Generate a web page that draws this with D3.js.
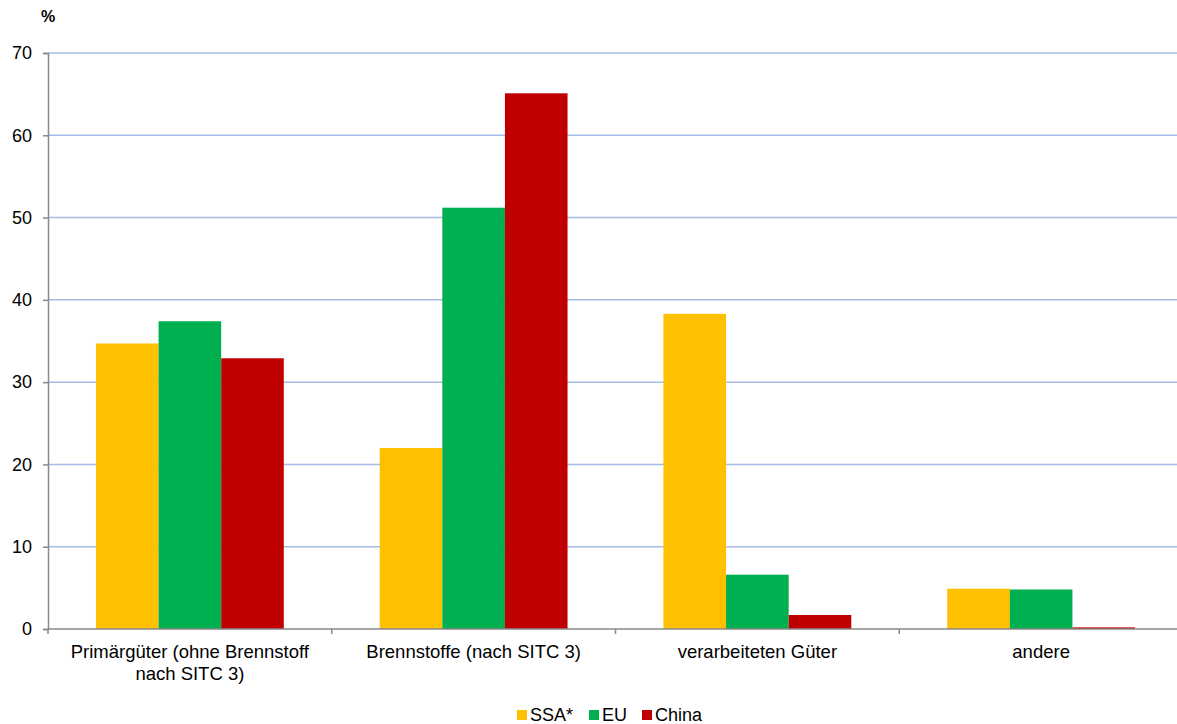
<!DOCTYPE html>
<html><head><meta charset="utf-8">
<script src="https://cdn.jsdelivr.net/npm/d3@7"></script>
<style>body{margin:0;background:#fff}svg{display:block}text{font-family:"Liberation Sans",Arial,sans-serif;fill:#000}</style>
</head><body><svg id="c" width="1177" height="724"></svg>
<script>
const categories = [["Primärgüter (ohne Brennstoff","nach SITC 3)"],["Brennstoffe (nach SITC 3)"],["verarbeiteten Güter"],["andere"]];
const seriesNames = ["SSA*","EU","China"];
const seriesColors = ["#FFC000","#00B050","#C00000"];
const ssa = [34.7, 22.0, 38.3, 4.9];
const eu = [37.4, 51.2, 6.6, 4.8];
const china = [32.9, 65.1, 1.7, 0.2];
const yTicks = [0,10,20,30,40,50,60,70];

(function(){
const values = [ssa, eu, china];
const svg = d3.select("#c");
const pLeft = 48, pRight = 1183, pTop = 53, pBottom = 629;
const idx = categories.map((d,i)=>i);
const x0 = d3.scaleBand().domain(idx).range([pLeft,pRight]).padding(0);
const bw = x0.bandwidth();
const gap = bw*0.169;
const x1 = d3.scaleBand().domain([0,1,2]).range([gap,bw-gap]).padding(0);
const y = d3.scaleLinear().domain([0,70]).range([pBottom,pTop]);

// gridlines
svg.append("g").selectAll("line").data(yTicks.filter(t=>t>0)).join("line")
  .attr("x1",pLeft).attr("x2",pRight).attr("y1",d=>y(d)).attr("y2",d=>y(d))
  .attr("stroke","#A4BCE6").attr("stroke-width",1.5);

// bars
const g = svg.append("g");
idx.forEach(ci=>{
  values.forEach((arr,si)=>{
    g.append("rect").attr("x",x0(ci)+x1(si)).attr("width",x1.bandwidth())
      .attr("y",y(arr[ci])).attr("height",y(0)-y(arr[ci])).attr("fill",seriesColors[si]);
  });
});

// y axis
const ya = svg.append("g").attr("transform",`translate(${pLeft},0)`)
  .call(d3.axisLeft(y).tickValues(yTicks).tickSize(5).tickPadding(11));
ya.select(".domain").attr("stroke","#888").attr("stroke-width",1.5);
ya.selectAll(".tick line").attr("stroke","#888").attr("stroke-width",1.5);
ya.selectAll("text").attr("font-size",18).attr("font-family","Liberation Sans, Arial, sans-serif").attr("fill","#000");

// x axis line and ticks
const boundaries = idx.map(i=>x0(i)).concat([pRight]);
svg.append("line").attr("x1",pLeft).attr("x2",pRight).attr("y1",pBottom).attr("y2",pBottom).attr("stroke","#888").attr("stroke-width",1.5);
svg.append("g").selectAll("line").data(boundaries).join("line")
  .attr("x1",d=>d).attr("x2",d=>d).attr("y1",pBottom).attr("y2",pBottom+5).attr("stroke","#888").attr("stroke-width",1.5);

// category labels
idx.forEach(ci=>{
  const t = svg.append("text").attr("text-anchor","middle").attr("font-size",18.5)
    .attr("x",x0(ci)+bw/2).attr("y",658);
  categories[ci].forEach((line,li)=>{
    t.append("tspan").attr("x",x0(ci)+bw/2).attr("dy",li===0?0:22).text(line);
  });
});

// % label
svg.append("text").attr("x",41).attr("y",22).attr("font-size",16).attr("font-weight","bold").text("%");

// legend
const legX = [517,589,642];
seriesNames.forEach((n,i)=>{
  svg.append("rect").attr("x",legX[i]).attr("y",710).attr("width",10).attr("height",10).attr("fill",seriesColors[i]);
  svg.append("text").attr("x",legX[i]+13).attr("y",721).attr("font-size",18).text(n);
});
})();
</script></body></html>
